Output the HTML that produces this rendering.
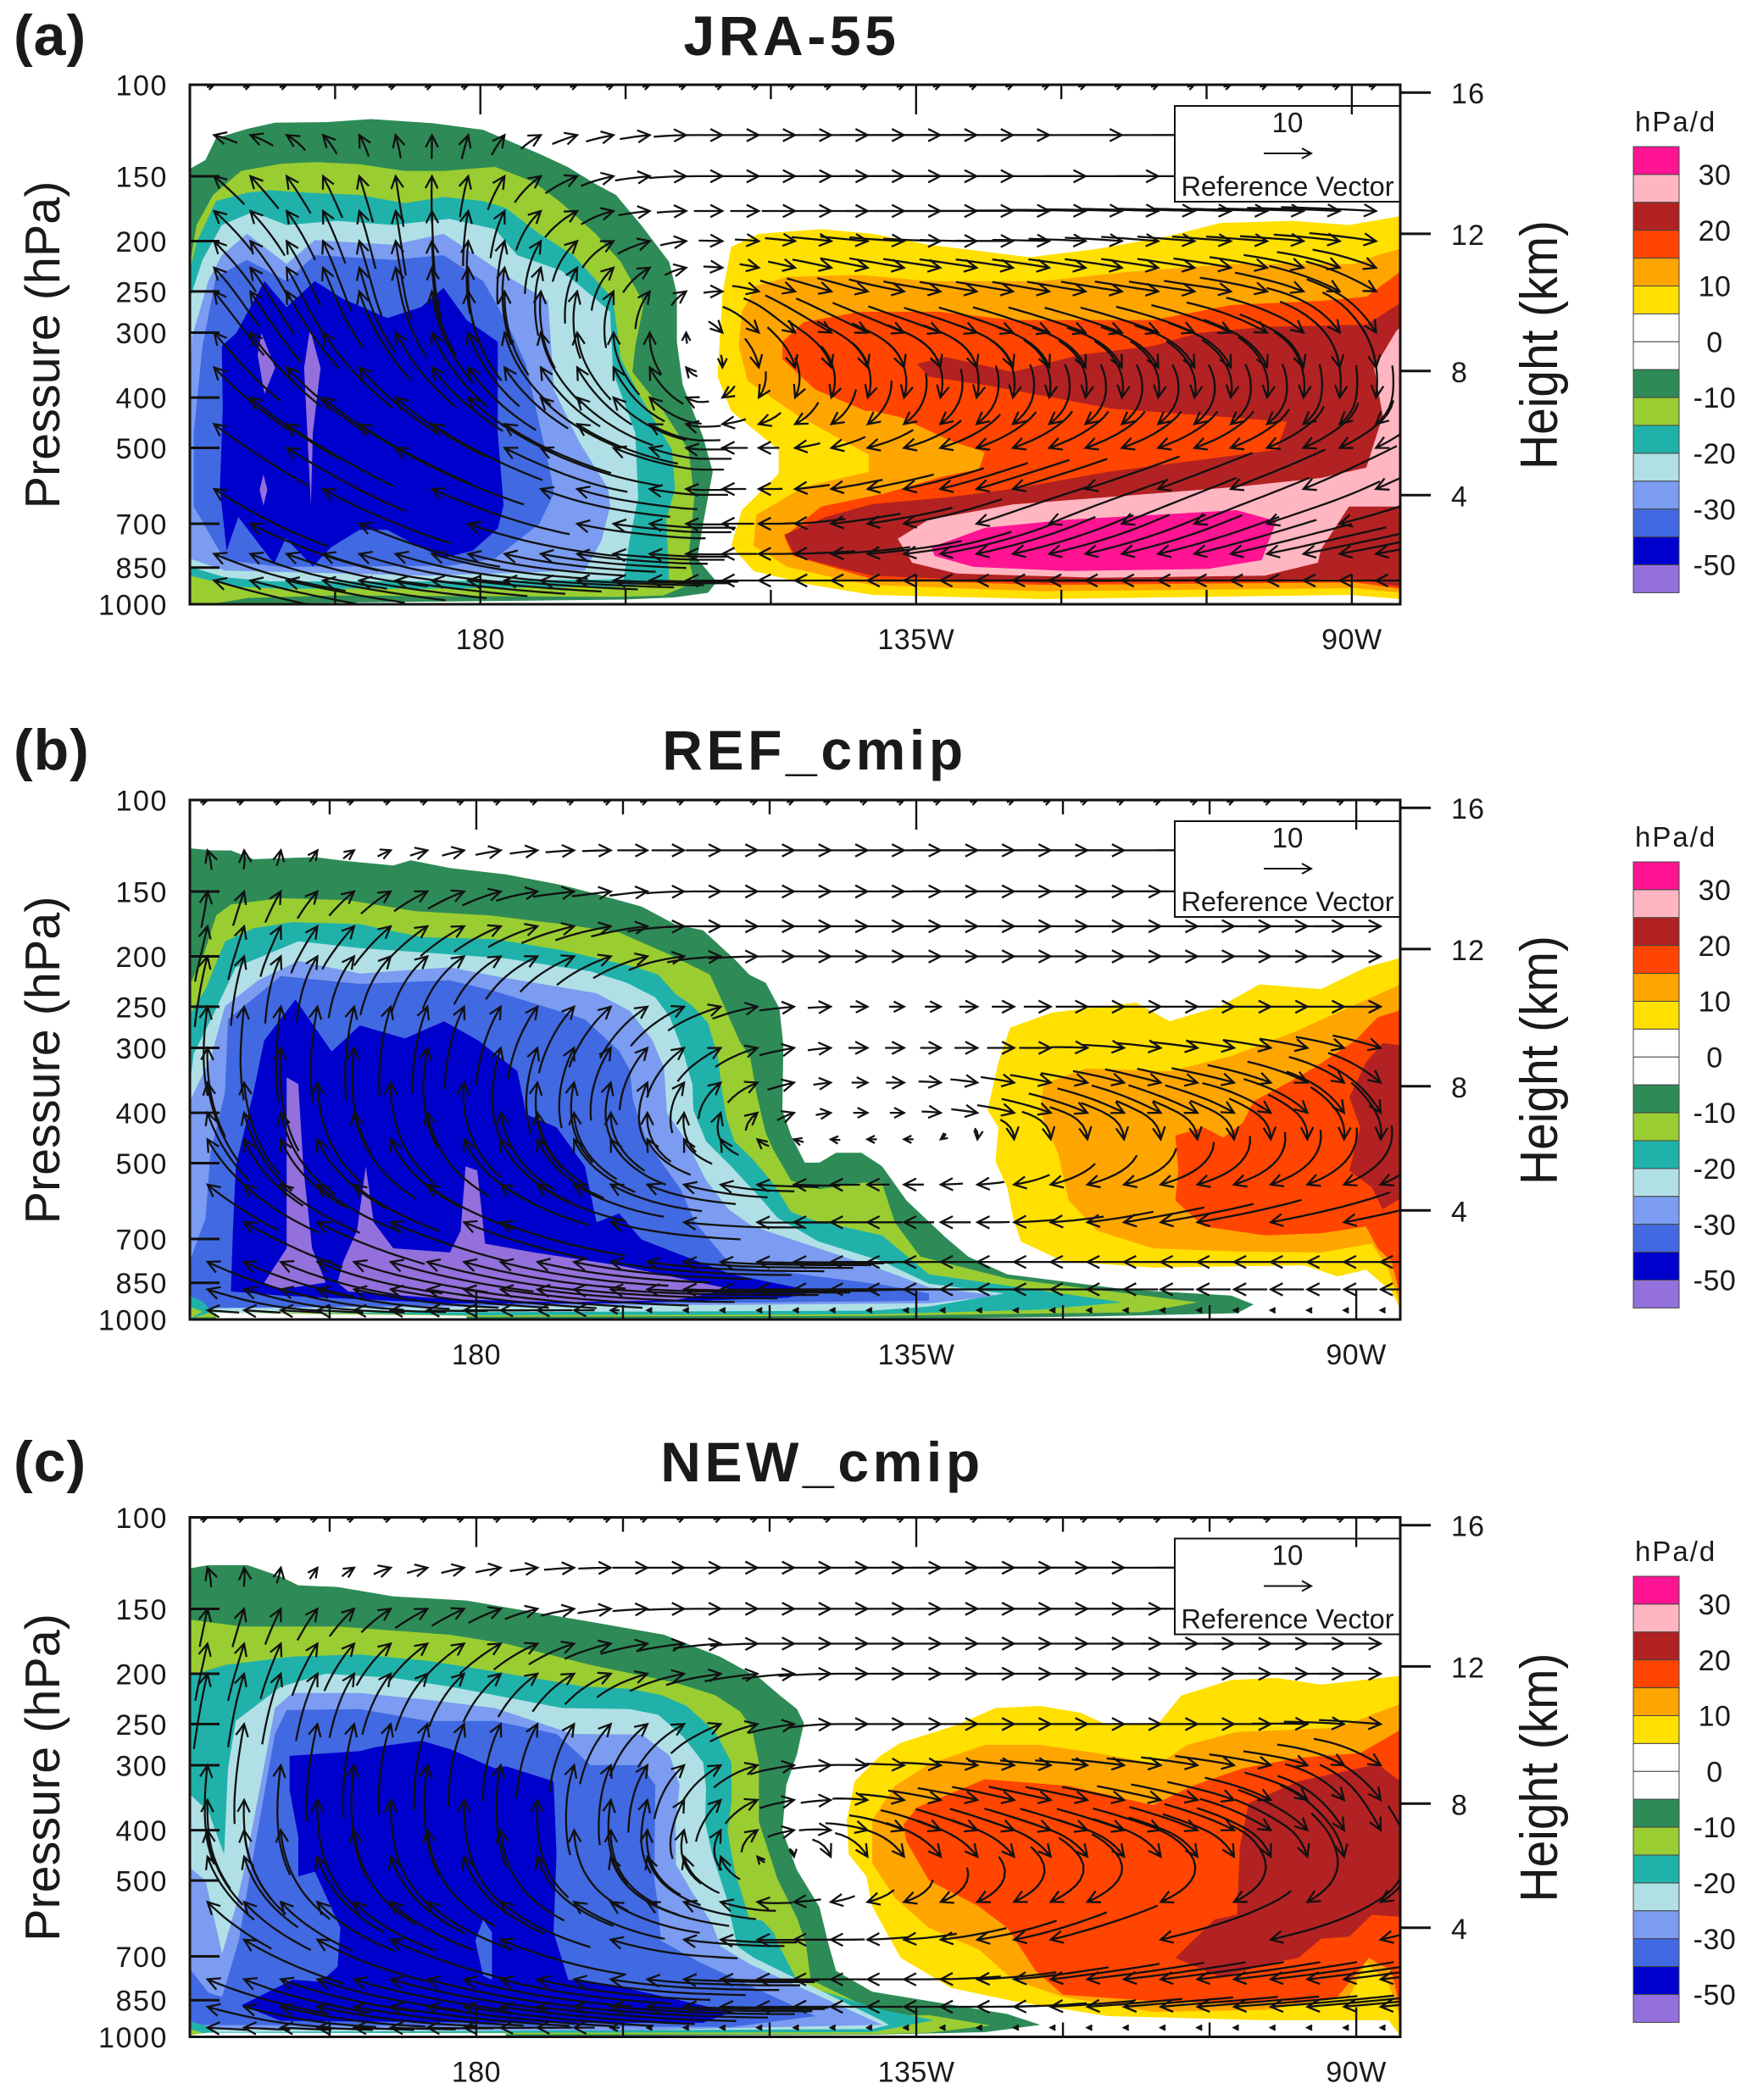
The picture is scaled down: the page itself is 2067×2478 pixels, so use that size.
<!DOCTYPE html>
<html lang="en">
<head>
<meta charset="utf-8">
<title>Omega and circulation cross-sections</title>
<style>
html,body{margin:0;padding:0;background:#fff;}
svg{display:block;}
text{font-family:"Liberation Sans",sans-serif;fill:#1a1a1a;}
</style>
</head>
<body>
<svg id="figure" xmlns="http://www.w3.org/2000/svg" width="2067" height="2478" viewBox="0 0 2067 2478"></svg>
<script>
// ---------- Axis data ----------
const lonTicks=[165,180,195,210,225,240,255,270];
const lonMajor=[180,225,270];
const lonLabels=['180','135W','90W'];
const pressureTicks=[100,150,200,250,300,400,500,700,850,1000];
const heightTicks=[16,12,8,4];
const heightTickLogP=[1.5,28.7,55.1,79];
const colorbarLabels=['30','20','10','0','-10','-20','-30','-50'];
const colorbarLevels=[35,30,20,15,10,5,0,0,-5,-10,-15,-20,-25,-30,-40,-50];
const levelsA=[100,125,150,175,200,225,250,300,350,400,450,500,600,700,800,900];
const levelsB=[100,125,150,175,200,250,300,350,400,450,550,650,775,875,960];

// ---------- Contour bands: [level, [lon, logP, lon, logP, ...]] ----------
const bandsA=[
[-5,[150,16.2,151.6,14.5,152.7,10.3,155.9,8.5,158.8,7.3,164.1,7.2,168.7,6.6,175.1,7.4,180.3,8.7,186.1,13.3,189,15.8,191.9,19.1,194,21.2,196.6,27,199.5,34.1,200.3,40.3,200.3,49.5,200.9,57.8,203,67.8,204,74.5,203,84.5,202.4,91.2,204.4,95.7,203.5,97.8,200,98.7,194.8,99.1,150,100]],
[-10,[150,34.5,150.7,27,152.4,21.2,155.3,16.6,159.4,15.2,162.9,14.9,167.5,15.3,172.2,16.6,176.2,16.6,181.5,15.8,185.5,18.7,188.4,22.8,191.9,28.7,194.5,34.1,196,39.1,196.9,42,196,50.3,195.7,55.3,198.9,62.8,201.5,70.3,202.1,79.5,201.5,91.2,202.1,95.8,198.9,98.3,194.3,98.6,165,98.3,156,98.8,153,99.7,150,100]],
[-15,[150,35.7,150.7,30.3,152.7,22.4,155.9,20.8,158.2,20.3,162.3,20.8,167.5,21.2,172.2,22.8,176.2,21.6,180.3,22.4,182.6,23.7,186.1,28.7,189.6,32.8,193.7,41.2,194.5,52.8,196.6,60.3,199.8,70.3,200.1,77.8,199.2,83.7,199.5,95.3,194.8,96.6,174.5,97,159.4,97,154.8,96.6,150,94.5]],
[-20,[150,41.2,151.3,33.7,153.3,27,156.5,24.5,160,27,165.2,26.2,171,27,176.8,25.8,181.5,27.8,183.8,32.8,188.4,35.8,191.9,41.2,193.4,43.7,193.7,55.3,196,67,196.3,79.5,195.4,87.8,194.8,95.2,174.5,95.6,158.2,95.6,153.6,94.8,150,92.8]],
[-25,[150.2,48.7,151.9,37.8,153.3,32.8,155.9,28.7,160,34.5,162.9,29.9,166.4,30.3,171,30.8,176.2,28.7,180.3,33.7,182.9,37,187,41.6,187.6,58.7,190.2,68.7,193.2,77.8,193.4,81.2,192.5,87.8,190.8,93.5,174.5,94.5,153.6,93.5,150,91.2,150,60]],
[-30,[150.4,67,151.3,50.3,152.7,37,155.9,33.7,160,37.8,162.9,32.8,166.4,33.2,171,33.7,176.2,32.8,180.3,37.8,182.6,45.3,184.7,53.7,187.3,75.3,187.6,78.7,186.1,84.5,181.5,91.2,176.8,92.6,159.4,92.8,153.6,91.5,150.4,81.2]],
[-40,[153.3,50.3,154.8,47.8,157.7,37.8,160,42.8,162.9,37.8,165.8,41.2,170.4,44.9,173.9,42.8,176.2,39.1,178.6,45.3,181.8,49.5,181.8,67,182.4,81,181.8,85.4,179.2,89.7,176.2,91.1,173.3,88.6,170.4,85.7,167.5,85.7,164.6,89,162.7,92.7,159.9,87.3,158.7,92.2,155,83.2,153.8,89.7,153.1,77.8,153.4,62.5]],
[-50,[157.4,47.8,158.8,54.5,157.7,59.5,157,52]],
[-50,[162.4,47,163.5,54.5,162.7,67,162.5,81,161.8,54.5]],
[-50,[157.6,75,158,78,157.6,81,157.2,78]],
[5,[205.9,31.2,208.8,28.7,215.2,27.8,220.5,28.7,226.3,30.8,236.7,33.2,243.7,31.6,251.2,29.1,256.4,26.6,263.9,26.2,269.7,27,275,25.3,275,99,269.7,98.2,237.9,99,220.5,98.2,214,96.2,208.2,93.6,205.9,88.7,207,81.9,210.8,74.9,210.8,70.3,205.9,62.8,204.5,56.2,205,40.3]],
[10,[208.5,38.7,211.7,37,219.2,36.6,226.3,37.8,237.9,37.8,246.6,36.1,257.6,34.5,270.3,34.5,272.6,32.8,275,31.6,275,97.8,270.3,96.9,237.9,97.5,220.5,96.3,217.5,95.3,211.7,92.8,208.2,88.7,208.5,82.8,213.4,77.4,220.1,74.5,220.1,71.2,212.8,63.7,207.6,57,206.7,50.3,207,43.7]],
[15,[211.2,49.5,213.4,45.7,219.2,43.7,227.4,43.7,235,45.3,249.5,45.3,257.6,42.4,266.8,41.6,271.5,40.8,275,36,275,97,270.3,95.8,237.9,96.3,220.5,95.2,212.3,90.7,211.4,87,215.2,81.2,221.7,78.7,228,75.3,231.5,74,232.1,70.7,228.6,68.6,223.4,64,220.5,62.8,219.8,62.8,214.6,58.7,211.2,52.8]],
[20,[225.1,53.7,228,52.4,235,55.3,241.9,52,249.5,50.3,254.1,47.8,261,46.6,271.5,46.2,275,42,275,96.6,270.3,95.1,237.9,95.9,220.5,94.5,217.5,93.2,212.5,90.7,211.4,86.6,215.7,83.2,220.5,80.7,228,79.5,235,77.8,244.8,74.5,255.2,72,262.2,70.3,263.3,64.9,255.2,63.7,245.4,62.4,240.8,60.8,232.1,57.8,226.3,56.2]],
[30,[223.1,87.4,226.3,83.7,235,80.8,249.5,78.7,258.1,77.4,266.8,75.7,271.5,73.7,273.2,63.7,272.3,54.5,274.6,47.4,275,46.6,275,81.2,269.7,81.2,266.8,89.5,266.5,92,261,94.5,243.7,94.9,229.2,94.1,224.6,92]],
[35,[226.6,89,232.1,85.3,240.8,83.7,249.5,82.8,258.1,81.9,262.2,84,260.7,91.5,255.2,93.2,240.8,93.6,230.9,92.8,226.9,90.7]]
];
const bandsB=[
[-5,[150.7,9.3,153.1,9.7,154.9,9.7,157.2,11.4,163.5,11,166.9,11.8,171.5,12.6,173.3,11.6,177.3,13.1,183,14.3,188.8,16.4,192.3,18.1,196.9,20.5,200.3,23.9,203.2,25.1,206.6,31,207.9,33.6,209.6,35.2,211,40.1,211.4,47.2,211.3,59.7,212.2,64.6,213.6,69.8,215.1,69.8,216.8,67.9,219.4,67.9,221.5,70.5,224,77.1,228,84.2,230.3,87.9,234.3,91.3,246.3,94.2,257.2,95.4,259.5,97.1,257.8,98.8,243.5,99.4,220.5,100,150.7,100]],
[-10,[150.7,35.5,152,30.5,153.4,22.2,154.9,20.1,160,18.9,166.9,19.3,173.8,21.4,181.3,22.2,188.8,23.9,194.6,25.5,199.7,29.7,203.9,33.6,205.2,39,206.1,42.9,207,46.7,208,49.4,208.7,56.9,209.6,64.1,210.4,67.4,212.2,73.3,215.1,74.9,219.7,73.6,221.5,73.8,222.8,81.3,225.4,87.9,234.3,92.1,253.8,96.7,248.1,98.6,220.5,99.3,150.7,99.6]],
[-15,[150.7,41.3,152.3,36.4,154.3,27.2,157.2,24.7,161.2,23.5,168.1,23.9,174.4,26.4,181.9,26.8,188.8,28.9,196.3,32.2,198.6,33.6,200.4,37.4,202.1,39.6,203.7,42.9,204.7,49.4,205.2,56.9,205.6,61.3,206.4,65.7,208.2,69,210.4,73.9,212.2,79.3,214.5,80.9,221.5,83.8,226.3,91.3,246.1,96.7,237.7,98.1,220.5,99,179.5,99.2,150.7,98.3]],
[-20,[150.7,54.7,151.1,48.8,153.1,41.3,155.4,32.2,161.8,27.2,168.1,28.5,177.3,29.7,183,30.5,191.7,33,195.4,35.2,198.3,38,199.8,41.8,201.2,48.8,202.1,54.8,202.2,59.7,203.5,65.7,206.1,70.6,209,76.5,210.8,80.4,215,85,221.5,88.8,226.3,93.1,234,95,226.3,97.5,220.5,98.3,150.7,98.8]],
[-25,[150.7,58,152.8,49.7,154.3,39.7,157.7,34.7,161.8,31,168.1,33.4,177.3,32.2,181.9,33.9,192.3,37.2,195.7,40.6,198,46.2,199.2,51.5,199.5,60.2,201.5,65.7,203.5,73.2,205.8,78.8,208.2,82,221.5,90.4,226.3,93.8,233.4,95.4,226.3,96.9,150.7,97.9]],
[-30,[150.7,88.8,152.3,80.5,152.8,68,154.3,56.3,154.6,42.2,160,33.9,168.1,35.4,177.3,34.7,181.9,36.8,191.1,42.2,194.6,48.3,195.7,52,196,57.6,197.4,65.7,200.9,74.9,202.4,81.4,206.1,89.6,221.5,93.3,226.3,95,226.3,96.4,150.7,97.8]],
[-40,[154.9,94.6,155.1,82.9,155.4,70.5,157.2,56.3,158.3,46.3,161.5,38.4,163.5,43.8,165.2,48.4,168.1,43.4,172.7,45.9,176.7,42.6,180.2,46.3,184.2,52.2,185.1,60.5,188.2,63,191.1,70.5,192.3,81.3,194.6,79.6,196.9,84.6,200.3,87.1,206.1,91.3,214.7,94.6,211.8,95.8,194.6,96.9,177.3,96.9,160,95.4]],
[-50,[158.3,92.9,160.6,86.3,160.6,53.4,161.8,54.7,162.3,70.5,163.2,86.3,164.6,92.9,160,94.2]],
[-50,[165.8,92.9,166.4,88.8,167.8,82.9,168.7,70.5,169.5,81.3,171.5,86.3,177.3,87.1,178.4,82.9,178.9,70.5,180.1,71.3,180.9,85.4,185.9,87.1,194.6,89.6,206.1,94.2,200.3,96.3,188.8,96.7,177.3,96.1,166.9,94.6]],
[0,[153.4,98.7,179,99.3,179,100,153.4,100]],
[-15,[150.7,95.5,152,96.5,153,98.6,150.7,99.8]],
[-10,[150.7,97.5,152,98.5,150.7,99.8]],
[5,[232.3,59.7,233.4,50.5,234.6,43.8,238.9,40.9,247.5,39,250.9,42.6,256.1,39.7,260.1,35.5,266.4,36.4,271,32.2,274.5,30.4,274.5,97.9,273.6,94.6,271,90.4,268.1,91.7,264.7,89.6,249.2,90,240,88.8,235.7,85,234.9,80.4,234.3,74.6,233.1,69.6,233.4,63]],
[10,[237.7,59.7,238,54.7,242.3,51.7,250.9,52.2,257.2,49.3,263.6,44.7,268.1,40.9,271.6,38,274.5,35.5,274.5,97.1,273.3,90.4,271.6,85.4,266.4,87.1,257.8,86.9,249.2,86.3,243.5,82.9,240.6,77.1,239.5,68,238.3,63]],
[15,[251.5,64.6,254.4,63,256.4,65,258.4,62.1,259.5,58,263.6,53.8,265.9,51.3,269.9,46.3,272.2,41.8,274.5,40.5,274.5,95.4,273.6,88.8,272.2,86.3,271,82.1,266.4,83.4,260.7,83.8,254.4,82.1,251.5,77.1,251.8,71.3]],
[20,[269.3,71.3,270.4,63,269.3,57.2,271,50.5,272.7,46.8,274.5,47.2,274.5,76.7,272.7,78.8,271.6,74.6]]
];
const bandsC=[
[-5,[150.7,9.8,152.6,9.2,156.6,9.2,160,11.4,161.8,13.1,165.8,13.4,171.5,15.2,179,16,184.2,17.7,191.7,20.1,199.2,22.6,204.9,26.8,209,31,211,34.2,212.8,36.9,213.5,39.6,212.8,45.6,211.7,51.6,211.3,60.3,212.8,67.9,215.1,75,216,82,216.8,87.3,220.5,91.3,226.3,93.1,234.3,95.6,237.7,97.7,232,99.1,220.5,99.6,150.7,100]],
[-10,[150.7,28,150.7,19.7,156,21,165.8,21,177.3,22.6,183,24.3,191.7,28.4,200.3,31.8,204.4,34.2,207,37.4,208.2,40.7,208.9,47.2,208.9,58.6,210.8,69.6,212.8,77.1,213.7,82,214.2,89,218.7,93.1,221.5,96,226.3,95.8,232.6,97.8,226.3,99.2,220.5,99.5,183.3,99.5,150.7,100]],
[-15,[150.7,30.5,154.3,28.4,161.2,26.8,168.1,26.4,175,27.6,180.7,29.3,191.1,32.6,195.7,33,198.9,34.2,201.5,36.3,204.4,41.2,206.1,47.2,206.1,54.9,205.7,60.3,206.4,67.9,207.9,77.1,209.3,77.7,210.4,79.9,211,82.6,213,89.8,221.5,94.8,226.8,96.8,220.5,99.1,150.7,99.3]],
[-20,[150.7,53.3,152.6,56.6,154.2,64.9,154.6,48.3,155.4,39.2,160,32.6,164.6,30.1,171.5,30.9,177.3,32.6,188.8,36.7,195.7,36.9,198.6,38,201.2,42.3,203.2,47.2,203.5,52.1,203.4,58.6,204.1,64.7,205.6,73.3,206.7,82.6,208.4,84.8,221.5,96.9,222.2,97.7,220.5,98.5,150.7,99.1]],
[-25,[150.7,67.4,152.3,69.9,154,84,155.4,74.9,156.3,67.4,158,50.8,159.4,36.7,161.2,33.8,168.1,33.8,175,35.1,181.9,36.7,189.9,41.7,196.9,41.8,199.8,45.9,200.8,51.6,200.4,58.6,200.4,66.8,202.1,72.2,204.1,78.2,205,82.6,208,86,221.5,97.7,194.6,98.8,150.7,98.5]],
[-30,[150.7,86.9,152.6,91.5,154,92.3,155.7,81.5,156.9,68.2,158.3,53.3,159.4,41.7,160.6,37.1,168.1,36.9,175,39.2,181.9,39.2,188.2,41.7,191.7,47.7,196.9,47.7,198.3,51.6,198.2,69.6,198.5,73.8,198.9,81.5,202.9,85.7,214.7,96,206.1,98.1,150.7,97.7]],
[-40,[160.9,45.9,168.1,45,169.8,44.2,174.4,43,177.3,44.6,181.9,48.3,183,47.9,187.9,50.8,188.2,64.9,187.9,79.9,189.4,89,193.4,89.8,206.1,95.2,203.2,97.3,183,97.3,160,96.9,156,93.9,161.2,89,164.1,89.4,165.8,86.5,166.1,79,163.5,68.2,161.8,69.1,161.8,61.6,160.9,52.5]],
[-30,[180.7,77.4,181.6,79.9,181.6,89,180.7,88.2,179.9,81.5]],
[0,[150.7,99.2,183,99.3,183,100,150.7,100]],
[-15,[150.7,97,152.5,98,153.5,99,150.7,99.6]],
[-10,[150.7,98.5,152,99.2,150.7,99.8]],
[5,[217.9,58.3,218.7,50.8,221.3,45.9,223.4,43.4,229.1,40,233.1,36.7,237.7,36.3,241.8,37.6,244.6,40,249.8,39.6,252.1,34.3,257.2,31.3,261.8,30.9,266.4,32.2,274.5,30.5,274.5,99.8,273.3,96.8,260.7,96.8,244.6,96,234.9,93.1,228.6,90.6,223.4,84.8,220.5,74.9,219.9,69.1,218.1,64.9]],
[10,[220.5,58.3,222.8,51.7,226.3,47.5,232,43.8,237.7,43.8,243.5,45.4,249.8,47.5,252.7,43.8,257.8,41.3,268.1,40.5,274.5,35.9,274.5,96.4,273.3,89.8,271,85.7,269.3,92.3,260.7,94.8,249.2,95.2,240,92.3,234.9,89,231.4,83.2,226.3,79,222.8,73.2,220.5,66.6]],
[15,[223.7,59.1,225.1,55.8,232,50.4,240.6,51.7,249.2,55.4,253.2,51.7,258.4,48.3,264.1,46.3,270.4,45.4,274.5,40.9,274.5,94.8,273.6,87.3,271.3,84.8,268.1,92.3,265.3,93.1,260.7,93.1,257.2,93.5,249.2,93.1,240,91.9,237.2,87.3,234.3,79,231.4,74.9,226.3,69.9,224,62.4]],
[20,[259,55,264.1,50.8,272.2,47.5,274.5,50.8,274.5,76.9,271.6,76.5,269.3,80.7,266.4,81.1,264.1,84.8,261.8,85.6,256.1,88.5,251.5,84.8,255.5,77.4,257.8,76.5,258.1,63.3]]
];

// ---------- Wind components by level (rows) and longitude 150..270 step 7.5 (columns) ----------
const uA=[
[1.5,1.5,1.5,1.5,1.5,1.5,1.5,1.5,1.5,1.5,1.5,1.5,1.5,1.5,1.5,1.5,1.5],
[-5,-5,-3,-1,2,5,6,7,9,11,14,18,22,24,24,24,24],
[-7,-6,-4,-1,3,7,7,8,9,11,14,18,22,24,24,24,24],
[-9,-8,-5,-2,3,8,7,6,6,9,13,16,16,16,16,17,20],
[-10,-9,-6,-2,2,7,8,5,5,9,12,12,12,12,12,13,14],
[-11,-10,-7,-3,1,5,8,4,4,9,12,12,12,12,12,12,13],
[-11,-10,-8,-4,-1,2,6,3,6,10,12,12,12,13,14,14,14],
[-13,-13,-12,-9,-6,-3,0,0,8,15,15,15,16,16,16,16,10],
[-14,-15,-15,-13,-11,-9,-7,-1,2,5,5,5,6,7,8,7,3],
[-16,-18,-18,-17,-16,-14,-12,-3,-3,-4,-3,-3,-2,-2,-2,-2,-2],
[-18,-21,-22,-22,-21,-20,-18,-5,-5,-8,-10,-11,-11,-11,-11,-11,-10],
[-20,-23,-26,-26,-25,-24,-22,-6,-4,-8,-14,-14,-14,-14,-14,-14,-14],
[-22,-24,-26,-28,-28,-26,-22,-5,-5,-12,-18,-20,-20,-20,-20,-20,-20],
[-24,-26,-28,-30,-30,-28,-24,-6,-8,-16,-22,-24,-24,-24,-24,-24,-24],
[-26,-28,-30,-32,-32,-30,-22,-6,-10,-18,-24,-26,-26,-26,-26,-25,-22],
[-22,-24,-26,-28,-28,-28,-24,-8,-10,-16,-18,-16,-14,-14,-12,-10,-8]
];
const wA=[
[0.5,0.5,0.5,0.5,0.5,0.5,0.5,0.5,0.5,0.5,0.5,0.5,0.5,0.5,0.5,0.5,0.5],
[1,2,4,5,5,2,1,0,0,0,0,0,0,0,0,0,0],
[5,7,9,11,8,4,1,0,0,0,0,0,0,0,0,0,0],
[7,9,11,14,11,6,1,0,0,0,0,0,-0.3,-0.5,-0.5,-0.5,-1],
[9,12,15,17,15,9,3,0,-0.5,-1,-0.5,0,-0.5,-1,-1,-1,-2],
[10,14,18,20,18,13,6,0,-1,-2,-2,-2,-2,-2,-2,-3,-5],
[12,16,20,22,20,16,10,1,-2,-3,-2,-2,-2,-2,-2,-4,-8],
[14,18,18,18,18,17,14,0,-8,-8,-6,-6,-6,-6,-7,-9,-16],
[14,16,16,16,16,15,14,0,-8,-14,-14,-14,-13,-13,-14,-16,-20],
[14,15,15,15,15,14,13,0,-6,-12,-13,-14,-14,-14,-14,-15,-18],
[14,15,15,15,14,13,11,0,-2,-6,-8,-9,-9,-9,-9,-9,-9],
[14,15,15,14,13,11,8,0,0,-2,-4,-5,-5,-5,-5,-6,-7],
[14,15,14,13,11,9,4,0,0,-2,-4,-6,-6,-7,-8,-8,-9],
[13,13,12,12,10,7,3,0,0,-2,-4,-8,-10,-10,-10,-8,-6],
[11,11,10,10,8,5,2,0,0,-1,-3,-6,-6,-6,-6,-5,-4],
[7,6,5,4,3,2,1,0,0,0,0,0,0,0,0,0,0]
];
const uB=[
[1.5,1.5,1.5,1.5,1.5,1.5,1.5,1.5,1.5,1.5,1.5,1.5,1.5,1.5,1.5,1.5,1.5],
[-2,0,2,3,5,6,6,7,8,10,12,14,18,22,24,24,24],
[0,3,5,7,8,9,8,8,9,10,12,14,16,18,20,20,20],
[2,4,7,9,10,11,12,12,11,11,11,11,11,11,11,12,14],
[3,5,8,10,12,13,12,12,10,9,9,9,9,9,9,10,12],
[3,2,4,6,8,10,12,13,9,4,3,4,6,8,8,9,9],
[0,1,2,3,5,7,9,11,9,4,4,5,7,9,10,10,10],
[-3,-2,-1,0,2,3,5,7,7,3,4,6,9,11,13,13,10],
[-6,-5,-5,-5,-4,-2,0,1,4,3,3,6,11,14,14,13,8],
[-9,-8,-9,-9,-9,-8,-7,-3,-2,-2,-2,0,2,2,2,1,-1],
[-14,-14,-16,-16,-17,-17,-18,-17,-12,-5,-4,-6,-11,-14,-16,-16,-16],
[-20,-20,-22,-24,-25,-26,-27,-25,-15,-8,-6,-7,-12,-18,-23,-26,-26],
[-22,-22,-26,-30,-34,-36,-38,-35,-25,-13,-10,-8,-8,-9,-9,-9,-9],
[-22,-24,-28,-34,-38,-42,-44,-40,-30,-18,-12,-9,-8,-7,-7,-7,-7],
[-6,-8,-10,-12,-14,-6,-1,-1,-1,-1,-1,-1,-1,-1,-1,-1,-1]
];
const wB=[
[0.5,0.5,0.5,0.5,0.5,0.5,0.5,0.5,0.5,0.5,0.5,0.5,0.5,0.5,0.5,0.5,0.5],
[4,4,2,1,1,0.5,0,0,0,0,0,0,0,0,0,0,0],
[8,7,5,4,3,1,1,0,0,0,0,0,0,0,0,0,0],
[12,11,9,7,5,3,2,0,0,0,0,0,0,0,0,0,0],
[15,14,12,10,8,6,4,1,0,0,0,0,0,0,0,0,0],
[18,20,20,18,16,13,10,5,1,0,0,0,0,0,0,0,0],
[18,22,23,22,20,17,13,7,2,0,0,0,0,-1,-1.5,-2,-3],
[16,22,24,24,22,19,15,8,2,0,0,-1,-2,-3,-3,-5,-8],
[14,20,22,23,21,19,14,8,2,0,0,-1,-4,-7,-7,-9,-13],
[13,18,19,19,19,17,13,6,1,0,0,-3,-10,-13,-13,-13,-14],
[10,13,13,13,12,11,9,4,0.5,0,0,-0.5,-3,-4,-5,-6,-7],
[10,11,11,10,10,9,6,2,0,0,0,0,-1,-3,-4,-5,-5],
[10,10,10,9,9,8,6,3,0.5,0,0,0,0,0,0,0,0],
[7,7,7,6,6,5,3,1,0,0,0,0,0,0,0,0,0],
[0.5,0.5,0.5,0.5,0,0,0,0,0,0,0,0,0,0,0,0,0]
];
const uC=[
[1.5,1.5,1.5,1.5,1.5,1.5,1.5,1.5,1.5,1.5,1.5,1.5,1.5,1.5,1.5,1.5,1.5],
[-2,0,2,4,5,6,7,8,9,10,12,14,18,22,24,24,24],
[1,3,5,7,7,7,7,8,9,10,11,13,15,18,20,20,20],
[2,4,7,9,9,10,10,10,10,10,10,10,11,11,12,12,12],
[3,5,7,9,10,10,11,12,11,11,11,11,11,11,11,12,13],
[3,4,5,6,7,8,10,12,10,9,9,9,10,10,10,11,13],
[2,3,3,3,4,5,7,10,10,8,8,9,11,11,12,13,13],
[0,1,0,0,0,1,3,7,8,6,10,13,13,13,14,13,9],
[-2,-2,-3,-3,-3,-2,0,4,5,7,12,13,14,14,14,14,9],
[-6,-6,-7,-8,-8,-7,-6,-3,-1,3,8,10,10,10,10,8,4],
[-12,-12,-14,-15,-16,-17,-17,-14,-6,-5,-8,-12,-18,-20,-20,-20,-20],
[-18,-20,-22,-24,-25,-26,-26,-20,-8,-7,-12,-18,-24,-28,-30,-30,-30],
[-24,-26,-30,-33,-35,-36,-35,-26,-10,-7,-10,-18,-24,-26,-26,-26,-26],
[-24,-28,-34,-38,-40,-42,-38,-28,-12,-7,-8,-14,-18,-24,-26,-26,-22],
[-8,-10,-12,-14,-14,-6,-1,-1,-1,-1,-1,-1,-1,-1,-1,-1,-1]
];
const wC=[
[0.5,0.5,0.5,0.5,0.5,0.5,0.5,0.5,0.5,0.5,0.5,0.5,0.5,0.5,0.5,0.5,0.5],
[4,4,2,1,1,0.5,0,0,0,0,0,0,0,0,0,0,0],
[8,8,6,4,3,1.5,0.5,0,0,0,0,0,0,0,0,0,0],
[12,12,10,7,6,4,2,1,0,0,0,0,0,0,0,0,0],
[16,15,13,11,9,7,4,2,1,0,0,0,0,0,0,0,0],
[20,21,20,18,16,14,10,6,2,0,0,0,0,0,0,0,-1],
[20,23,24,24,22,20,15,8,2,0,-0.5,-1,-1,-1.5,-2,-3,-8],
[18,23,25,25,24,22,18,10,2,0,-2,-3,-3,-3,-4,-7,-12],
[16,21,24,26,25,23,19,11,2,-1,-5,-5,-5,-5,-6,-9,-17],
[14,19,21,22,23,21,18,9,0,-6,-10,-12,-12,-13,-14,-18,-21],
[11,13,14,14,14,13,10,5,0,-1,-3,-6,-9,-9,-10,-11,-13],
[11,12,12,11,11,10,7,2,0,0,-1,-3,-6,-7,-7,-7,-7],
[10,10,10,9,9,8,5,1,0,0,0,-1,-3,-3,-3,-3,-3],
[7,7,7,6,6,5,3,1,0,0,0,0,-1,-2,-2,-2,-2],
[0.5,0.5,0.5,0.5,0,0,0,0,0,0,0,0,0,0,0,0,0]
];

// ---------- Rendering ----------
const NS='http://www.w3.org/2000/svg';
const root=document.getElementById('figure');
const levelColor=function(v){
  if(v===35)return '#FF1493'; if(v===30)return '#FFB6C1';
  if(v===20)return '#B22222'; if(v===15)return '#FF4500'; if(v===10)return '#FFA500';
  if(v===5)return '#FFE000'; if(v===0)return '#FFFFFF'; if(v===-5)return '#2E8B57';
  if(v===-10)return '#9ACD32'; if(v===-15)return '#20B2AA'; if(v===-20)return '#B0E0E6';
  if(v===-25)return '#7B9CF0'; if(v===-30)return '#4169E1'; if(v===-40)return '#0000CD';
  return '#9370DB';
};
function make(tag,parent,attrs){
  const el=document.createElementNS(NS,tag);
  for(const k in attrs)el.setAttribute(k,attrs[k]);
  parent.appendChild(el);
  return el;
}
function logP(p){return 100*Math.log10(p/100);}
const PLOT_L=224,PLOT_R=1652,PLOT_H=613,UNIT=5.6;

function sampleField(lon,q,U,W,qs){
  let fi=(lon-150)/7.5; fi=Math.max(0,Math.min(16,fi));
  const i0=Math.min(15,Math.floor(fi)),tx=fi-i0;
  let j0=0;
  while(j0<qs.length-2&&q>qs[j0+1])j0++;
  let ty=(q-qs[j0])/(qs[j0+1]-qs[j0]); ty=Math.max(0,Math.min(1,ty));
  const bi=function(F){
    return (F[j0][i0]*(1-tx)+F[j0][i0+1]*tx)*(1-ty)+(F[j0+1][i0]*(1-tx)+F[j0+1][i0+1]*tx)*ty;
  };
  return [bi(U),bi(W)];
}

function drawPanel(p){
  const top=p.top;
  const x=function(lon){return PLOT_L+(lon-p.lonMin)/(p.lonMax-p.lonMin)*(PLOT_R-PLOT_L);};
  const y=function(q){return top+q/100*PLOT_H;};
  const xInv=function(px){return p.lonMin+(px-PLOT_L)/(PLOT_R-PLOT_L)*(p.lonMax-p.lonMin);};
  const yInv=function(py){return (py-top)/PLOT_H*100;};
  const g=make('g',root,{});
  
  

  const clipId='clip-'+p.letter;
  const defs=make('defs',g,{});
  const cp=make('clipPath',defs,{id:clipId});
  make('rect',cp,{x:PLOT_L,y:top,width:PLOT_R-PLOT_L,height:PLOT_H});

  const letter=make('text',g,{x:16,y:p.titleY,'font-size':68,'font-weight':'bold','letter-spacing':1,fill:'#222'});
  letter.textContent='('+p.letter+')';
  
  

  const title=make('text',g,{x:p.titleX,y:p.titleY,'font-size':66,'font-weight':'bold','letter-spacing':4.6,'text-anchor':'middle',fill:'#222'});
  title.textContent=p.title;
  
  

  const bandGroup=make('g',g,{'clip-path':'url(#'+clipId+')'});
  
  
  p.bands.forEach(function(b){
    const pts=[];
    for(let i=0;i<b[1].length;i+=2)pts.push(x(b[1][i]).toFixed(1)+','+y(b[1][i+1]).toFixed(1));
    const poly=make('polygon',bandGroup,{points:pts.join(' '),fill:levelColor(b[0])});
    
    
  });

  const vecGroup=make('g',g,{'clip-path':'url(#'+clipId+')',fill:'none',stroke:'#111','stroke-width':2.3});
  
  
  const qs=p.levels.map(logP);
  qs.forEach(function(q,rowIdx){
    let colIdx=-1;
    for(let lon=152.5;lon<=274;lon+=3.75){
      colIdx++;
      const v0=sampleField(lon,q,p.u,p.w,qs);
      const mag=Math.hypot(v0[0],v0[1]);
      if(mag<0.05)continue;
      const L=mag*UNIT;
      const thin=(q<88&&L>150)?3:((q<88&&L>115)?2:1);
      if(colIdx%thin!==rowIdx%thin)continue;
      const n=Math.max(3,Math.ceil(L/9));
      const ds=L/n;
      let px=x(lon),py=y(q);
      const hx=px,hy=py;
      const path=[[px,py]];
      for(let s=0;s<n;s++){
        const v=sampleField(xInv(px),yInv(py),p.u,p.w,qs);
        const m=Math.hypot(v[0],v[1])||1;
        px-=v[0]/m*ds;
        py+=v[1]/m*ds;
        path.push([px,py]);
      }
      const a=Math.atan2(path[0][1]-path[1][1],path[0][0]-path[1][0]);
      const bl=Math.min(16,L*0.6+3),ang=0.47;
      let d='M'+path.slice().reverse().map(function(c){return c[0].toFixed(1)+' '+c[1].toFixed(1);}).join('L');
      d+='M'+(hx-bl*Math.cos(a-ang)).toFixed(1)+' '+(hy-bl*Math.sin(a-ang)).toFixed(1)+'L'+hx.toFixed(1)+' '+hy.toFixed(1)+'L'+(hx-bl*Math.cos(a+ang)).toFixed(1)+' '+(hy-bl*Math.sin(a+ang)).toFixed(1);
      const arrow=make('path',vecGroup,{d:d});
      
      
    }
  });

  // Reference-vector legend
  const lg=make('g',g,{});
  
  
  make('rect',lg,{x:1386,y:top+25,width:266,height:113,fill:'#fff',stroke:'#111','stroke-width':2});
  const t10=make('text',lg,{x:1519,y:top+56,'font-size':33,'text-anchor':'middle'});
  t10.textContent='10';
  make('path',lg,{d:'M1491 '+(top+81)+'H1547M1536 '+(top+75)+'L1547 '+(top+81)+'L1536 '+(top+87),fill:'none',stroke:'#111','stroke-width':2});
  const tr=make('text',lg,{x:1519,y:top+131,'font-size':32.5,'text-anchor':'middle'});
  tr.textContent='Reference Vector';

  // Axes frame and ticks
  const ax=make('g',g,{stroke:'#111','stroke-width':3,fill:'none'});
  
  
  make('rect',ax,{x:PLOT_L,y:top,width:PLOT_R-PLOT_L,height:PLOT_H});
  lonTicks.forEach(function(t){
    const len=lonMajor.indexOf(t)>=0?35:17;
    make('line',ax,{x1:x(t),x2:x(t),y1:top,y2:top+len,'stroke-width':2.4});
    make('line',ax,{x1:x(t),x2:x(t),y1:top+PLOT_H,y2:top+PLOT_H-len,'stroke-width':2.4});
  });
  lonMajor.forEach(function(t,i){
    const lb=make('text',g,{x:x(t),y:top+PLOT_H+53,'font-size':34,'text-anchor':'middle','letter-spacing':0.5});
    lb.textContent=lonLabels[i];
    
    
  });
  pressureTicks.forEach(function(t){
    const yy=y(logP(t));
    if(t!==100&&t!==1000)make('line',ax,{x1:PLOT_L,x2:PLOT_L+35,y1:yy,y2:yy});
    const lb=make('text',g,{x:198,y:yy+12.5,'font-size':34,'text-anchor':'end','letter-spacing':1.6});
    lb.textContent=String(t);
    
    
  });
  heightTicks.forEach(function(t,i){
    const yy=y(heightTickLogP[i]);
    make('line',ax,{x1:PLOT_R,x2:PLOT_R+36,y1:yy,y2:yy});
    const lb=make('text',g,{x:1712,y:yy+13,'font-size':34,'letter-spacing':1.2});
    lb.textContent=String(t);
    
    
  });

  const cy=top+307;
  const py=make('text',g,{x:0,y:0,'font-size':57.5,'text-anchor':'middle',transform:'translate(70 '+cy+') rotate(-90)'});
  py.textContent='Pressure (hPa)';
  
  
  const hy=make('text',g,{x:0,y:0,'font-size':62,'text-anchor':'middle',textLength:294,lengthAdjust:'spacingAndGlyphs',transform:'translate(1837 '+cy+') rotate(-90)'});
  hy.textContent='Height (km)';
  
  

  // Colorbar
  const cb=make('g',g,{});
  
  
  const bh=32.9,cbTop=p.cbTop;
  const unit=make('text',cb,{x:1929,y:cbTop-18,'font-size':33,'letter-spacing':2});
  unit.textContent='hPa/d';
  colorbarLevels.forEach(function(v,i){
    const r=make('rect',cb,{x:1927,y:cbTop+i*bh,width:54,height:bh,fill:levelColor(v),stroke:'#444','stroke-width':1});
    
    
  });
  colorbarLabels.forEach(function(s,i){
    const lb=make('text',cb,{x:2023,y:cbTop+33+i*65.8+12,'font-size':34,'text-anchor':'middle','letter-spacing':0.5});
    lb.textContent=s;
    
    
  });
}

drawPanel({letter:'a',title:'JRA-55',titleX:934,titleY:65,top:100,cbTop:173,lonMin:150,lonMax:275,bands:bandsA,levels:levelsA,u:uA,w:wA});
drawPanel({letter:'b',title:'REF_cmip',titleX:961,titleY:908,top:944,cbTop:1017,lonMin:150.7,lonMax:274.5,bands:bandsB,levels:levelsB,u:uB,w:wB});
drawPanel({letter:'c',title:'NEW_cmip',titleX:970,titleY:1748,top:1790.5,cbTop:1860,lonMin:150.7,lonMax:274.5,bands:bandsC,levels:levelsB,u:uC,w:wC});
</script>
</body>
</html>
